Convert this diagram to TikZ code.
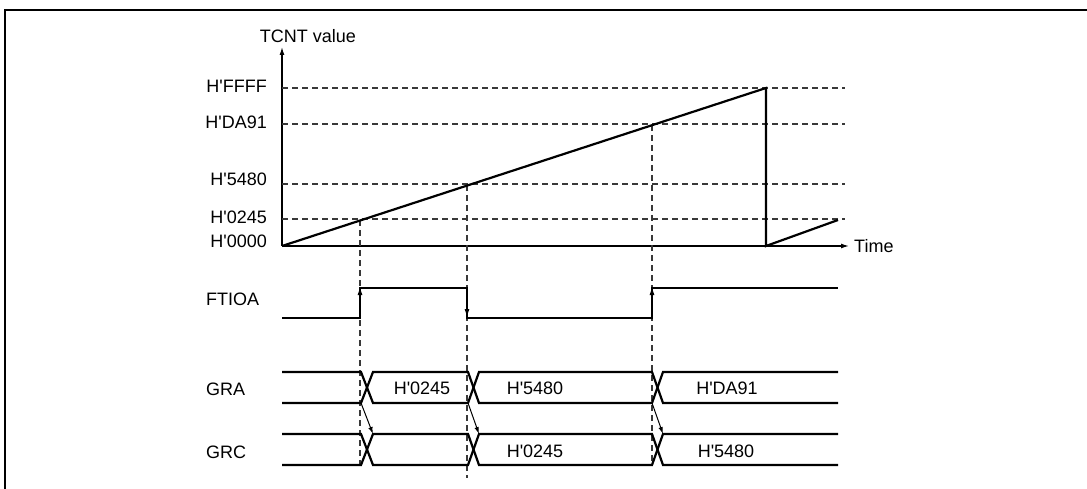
\documentclass[tikz,border=0pt]{standalone}
\usepackage{fontspec}
\setmainfont{Liberation Sans}
\usetikzlibrary{arrows.meta}
\newcommand{\qt}{\textquotesingle}
\begin{document}
\begin{tikzpicture}[x=1pt,y=-1pt,
  lbl/.style={font=\fontsize{18}{21}\selectfont, inner sep=0pt},
  sig/.style={line width=2.2pt, line join=miter},
  refline/.style={draw=black!78, line width=1.1pt, dash pattern=on 6pt off 4pt},
  axis/.style={line width=1.3pt, -{Latex[length=8pt,width=5pt]}},
  edgetip/.style={line width=1pt, -{Latex[length=8pt,width=5pt]}},
  xfer/.style={line width=1pt, -{Latex[length=7pt,width=4.5pt]}}
]
\useasboundingbox (0,0) rectangle (1087,489);
% frame
\coordinate (fbl) at (5,495);
\coordinate (ftl) at (5,10);
\coordinate (ftr) at (1095,10);
\draw[line width=2.2pt] (fbl) -- (ftl) -- (ftr);

% axes
\coordinate (O) at (282,246);
\coordinate (Ytop) at (282,47);
\coordinate (Xend) at (849,246);
\draw[axis] (O) -- (Ytop);
\draw[axis] (O) -- (Xend);
\node[lbl] (tcnt) at (308,36) {TCNT value};
\node[lbl, anchor=west] (time) at (854,246) {Time};

% level labels and dashed levels
\node[lbl, anchor=east] (lFFFF) at (267,86) {H\qt FFFF};
\node[lbl, anchor=east] (lDA91) at (267,122) {H\qt DA91};
\node[lbl, anchor=east] (l5480) at (267,179) {H\qt 5480};
\node[lbl, anchor=east] (l0245) at (267,217) {H\qt 0245};
\node[lbl, anchor=east] (l0000) at (267,241) {H\qt 0000};
\coordinate (aFFFF) at (282,88);  \coordinate (bFFFF) at (845,88);
\coordinate (aDA91) at (282,124); \coordinate (bDA91) at (845,124);
\coordinate (a5480) at (282,184); \coordinate (b5480) at (845,184);
\coordinate (a0245) at (282,219); \coordinate (b0245) at (845,219);
\draw[refline] (aFFFF) -- (bFFFF);
\draw[refline] (aDA91) -- (bDA91);
\draw[refline] (a5480) -- (b5480);
\draw[refline] (a0245) -- (b0245);

% compare-match verticals
\coordinate (v1t) at (360,220); \coordinate (v1b) at (360,465);
\coordinate (v2t) at (467,185); \coordinate (v2b) at (467,478);
\coordinate (v3t) at (652,125); \coordinate (v3b) at (652,464);
\draw[refline] (v1t) -- (v1b);
\draw[refline] (v2t) -- (v2b);
\draw[refline] (v3t) -- (v3b);

% counter ramp
\coordinate (peak) at (766,88);
\coordinate (drop) at (766,246);
\coordinate (r2) at (838,220);
\draw[sig] (O) -- (peak) -- (drop) -- (r2);

% FTIOA
\node[lbl, anchor=west] (ftioa) at (206,299) {FTIOA};
\coordinate (f0) at (282,318);
\coordinate (f1) at (360,318);
\coordinate (f2) at (360,288);
\coordinate (f3) at (467,288);
\coordinate (f4) at (467,318);
\coordinate (f5) at (652,318);
\coordinate (f6) at (652,288);
\coordinate (f7) at (838,288);
\draw[sig] (f0) -- (f1) -- (f2) -- (f3) -- (f4) -- (f5) -- (f6) -- (f7);
\coordinate (t1a) at (360,304); \coordinate (t1b) at (360,287);
\coordinate (t2a) at (467,302); \coordinate (t2b) at (467,317);
\coordinate (t3a) at (652,304); \coordinate (t3b) at (652,287);
\draw[edgetip] (t1a) -- (t1b);
\draw[edgetip] (t2a) -- (t2b);
\draw[edgetip] (t3a) -- (t3b);

% GRA bus
\node[lbl, anchor=west] (gra) at (206,389) {GRA};
\draw[sig] (282,372) -- (361,372) -- (373,403) -- (468,403) -- (479,372) -- (652,372) -- (663,403) -- (838,403);
\draw[sig] (282,403) -- (361,403) -- (373,372) -- (468,372) -- (479,403) -- (652,403) -- (663,372) -- (838,372);
\node[lbl] (gra1) at (422,388) {H\qt 0245};
\node[lbl] (gra2) at (535,388) {H\qt 5480};
\node[lbl] (gra3) at (727,388) {H\qt DA91};

% GRC bus
\node[lbl, anchor=west] (grc) at (206,452) {GRC};
\draw[sig] (282,434) -- (361,434) -- (373,465) -- (468,465) -- (479,434) -- (652,434) -- (663,465) -- (838,465);
\draw[sig] (282,465) -- (361,465) -- (373,434) -- (468,434) -- (479,465) -- (652,465) -- (663,434) -- (838,434);
\node[lbl] (grc1) at (535,451) {H\qt 0245};
\node[lbl] (grc2) at (726,451) {H\qt 5480};

% transfer arrows GRA -> GRC
\coordinate (x1a) at (361,403); \coordinate (x1b) at (373,434);
\coordinate (x2a) at (468,403); \coordinate (x2b) at (479,434);
\coordinate (x3a) at (652,403); \coordinate (x3b) at (663,434);
\draw[xfer] (x1a) -- (x1b);
\draw[xfer] (x2a) -- (x2b);
\draw[xfer] (x3a) -- (x3b);
\end{tikzpicture}
\end{document}
